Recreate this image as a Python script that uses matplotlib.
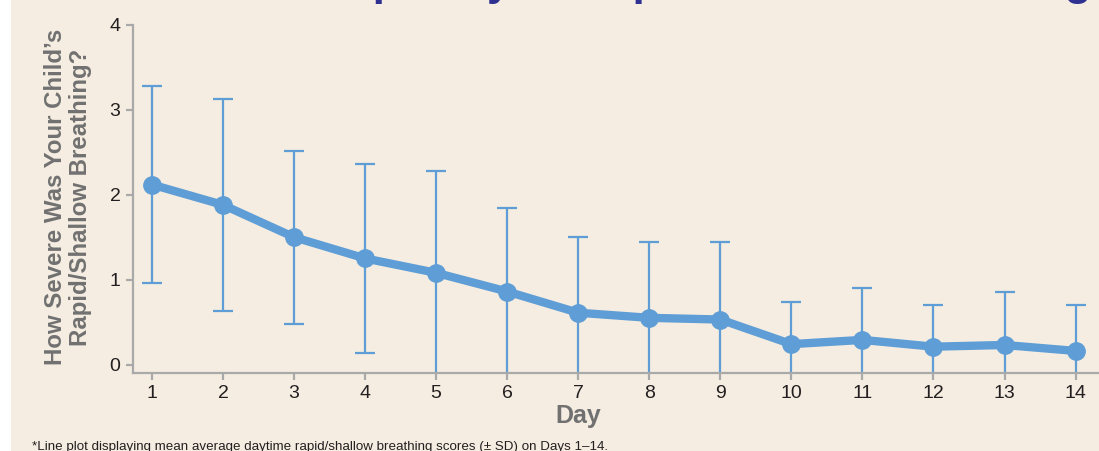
import matplotlib
matplotlib.use("Agg")
import matplotlib.pyplot as plt
from matplotlib.patches import Rectangle

days = [1, 2, 3, 4, 5, 6, 7, 8, 9, 10, 11, 12, 13, 14]
means = [2.12, 1.88, 1.50, 1.25, 1.08, 0.86, 0.61, 0.55, 0.53, 0.24, 0.29, 0.21, 0.23, 0.16]
sds = [1.16, 1.25, 1.02, 1.11, 1.20, 0.98, 0.89, 0.89, 0.91, 0.50, 0.61, 0.49, 0.62, 0.54]
yticks = [0, 1, 2, 3, 4]

BG = "#F5EDE1"
BLUE = "#5E9DD6"
GREY = "#A9A9A9"
LABEL = "#717171"

plt.rcParams['font.family'] = ['Liberation Sans', 'DejaVu Sans']

W, H = 1099, 451
fig = plt.figure(figsize=(W / 100, H / 100), dpi=100)
fig.patch.set_facecolor(BG)
fig.patches.append(Rectangle((0, 0), 11 / W, 1, transform=fig.transFigure,
                             facecolor="white", edgecolor="none", zorder=0))

ax = fig.add_axes([133 / W, (H - 373) / H, 1 - 133 / W, (373 - 25) / H])
ax.set_facecolor(BG)

ax.errorbar(days, means, yerr=sds, fmt='none', ecolor=BLUE, elinewidth=1.6,
            capsize=7, capthick=1.6, zorder=2)
ax.plot(days, means, color=BLUE, lw=6, marker='o', markersize=12.5,
        solid_capstyle='round', zorder=3)

ax.set_xlim(0.733, 14.33)
ax.set_ylim(-0.1, 4)
ax.set_xticks(days)
ax.set_yticks(yticks)
for s in ['top', 'right']:
    ax.spines[s].set_visible(False)
for s in ['left', 'bottom']:
    ax.spines[s].set_color(GREY)
    ax.spines[s].set_linewidth(1.6)
ax.tick_params(axis='both', colors=GREY, width=1.6, length=5, labelsize=14,
               labelcolor="#231F20", pad=4)

fig.text(578 / W, (H - 416) / H, "Day", ha='center', va='center',
         fontsize=18, fontweight='bold', color=LABEL)
fig.text(68 / W, (H - 197) / H, "How Severe Was Your Child\u2019s\nRapid/Shallow Breathing?",
         rotation=90, ha='center', va='center', fontsize=17.3, fontweight='bold',
         color=LABEL, linespacing=1.1)
fig.text(32 / W, (H - 441) / H,
         "*Line plot displaying mean average daytime rapid/shallow breathing scores (\u00b1 SD) on Days 1\u201314.",
         ha='left', va='top', fontsize=9.6, color="#231F20")
fig.text(290 / W, 1 + 5 / H, "Frequency of Rapid/Shallow Breathing",
         ha='left', va='baseline', fontsize=31.5, fontweight='bold', color="#2E3192")

fig.savefig("out.png", dpi=100, facecolor=BG)
